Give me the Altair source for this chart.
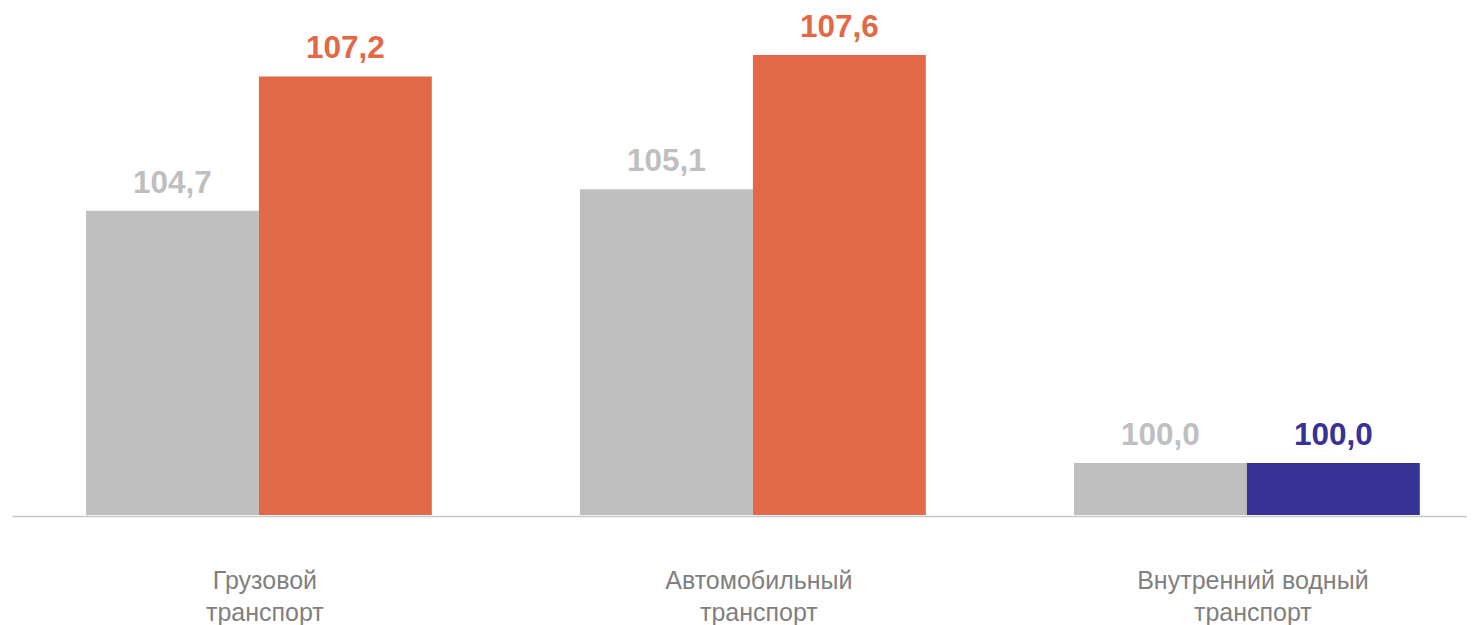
import altair as alt
import pandas as pd

categories = ["Грузовой\nтранспорт", "Автомобильный\nтранспорт", "Внутренний водный\nтранспорт"]
series = ["prev", "cur"]
prev_values = [104.7, 105.1, 100.0]
cur_values = [107.2, 107.6, 100.0]

rows = []
for c, p, v in zip(categories, prev_values, cur_values):
    rows.append({"cat": c, "series": "prev", "value": p, "kind": "base"})
    rows.append({"cat": c, "series": "cur", "value": v, "kind": "up" if v > p else "same"})
df = pd.DataFrame(rows)

color_scale = alt.Scale(domain=["base", "up", "same"], range=["#BFBFBF", "#E26947", "#373296"])
x_enc = alt.X("cat:N", sort=categories,
              scale=alt.Scale(paddingInner=0.3, paddingOuter=0.1227, align=0.6106),
              axis=alt.Axis(title=None, labelExpr="split(datum.label, '\\n')",
                            labelFont="Liberation Sans", labelFontSize=25, labelColor="#808080",
                            labelLineHeight=32, labelPadding=52, labelAngle=0, labelLimit=0,
                            labelOffset=6,
                            ticks=False, domainColor="#C8C8C8", domainWidth=1.5, offset=1))
xo_enc = alt.XOffset("series:N", sort=series, scale=alt.Scale(paddingInner=0, paddingOuter=0))
y_enc = alt.Y("value:Q", scale=alt.Scale(domain=[99.03, 108.475], zero=False, nice=False, clamp=True),
              axis=None)

base = alt.Chart(df).encode(x=x_enc, xOffset=xo_enc, y=y_enc)

bars = base.mark_bar().encode(
    color=alt.Color("kind:N", scale=color_scale, legend=None)
)
labels = base.transform_calculate(
    lbl="replace(format(datum.value, '.1f'), '.', ',')"
).mark_text(dy=-18, baseline="alphabetic", align="center", font="Liberation Sans",
            fontSize=31.5, fontWeight="bold").encode(
    text="lbl:N",
    color=alt.Color("kind:N", scale=color_scale, legend=None),
)

chart = (bars + labels).properties(
    width=1455, height=507,
    autosize=alt.AutoSizeParams(type="none"),
    padding={"left": 4, "top": 0, "right": 0, "bottom": 110},
).configure_view(stroke=None).configure_axis(grid=False)

chart.save("out.html", embed_options={"renderer": "svg", "actions": False})
